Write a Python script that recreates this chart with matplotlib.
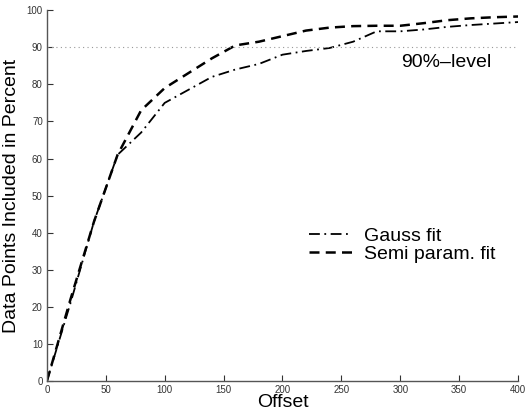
import matplotlib
matplotlib.use("Agg")
import matplotlib.pyplot as plt

offset = [0, 20, 40, 60, 80, 100, 120, 140, 160, 180, 200, 220, 240, 260, 280, 300, 320, 340, 360, 380, 400]
gauss = [0, 21, 43, 61, 67, 75, 78.5, 82, 84, 85.5, 88, 89, 89.8, 91.5, 94.3, 94.3, 94.8, 95.5, 96, 96.4, 96.8]
semi = [0, 22, 43, 61, 73, 79, 83, 87, 90.5, 91.5, 93, 94.5, 95.3, 95.7, 95.8, 95.8, 96.5, 97.3, 97.8, 98.1, 98.3]
level = 90
xticks = [0, 50, 100, 150, 200, 250, 300, 350, 400]
yticks = [0, 10, 20, 30, 40, 50, 60, 70, 80, 90, 100]

plt.rcParams['font.family'] = ['Liberation Sans', 'DejaVu Sans']
fig = plt.figure(figsize=(5.27, 4.19), dpi=100)
ax = fig.add_axes([0.089, 0.0907, 0.894, 0.885])

ax.plot(offset, gauss, color='black', lw=1.3, linestyle=(0, (6, 2.5, 1, 2.5)), label='Gauss fit')
ax.plot(offset, semi, color='black', lw=1.8, linestyle=(0, (4, 2.5)), label='Semi param. fit')
ax.axhline(level, color='#999999', lw=0.8, linestyle=(0, (1, 3)))
ax.text(301, 86, '90%\u2013level', fontsize=14, ha='left', va='center')

ax.set_xlim(0, 400)
ax.set_ylim(0, 100)
ax.set_xticks(xticks)
ax.set_yticks(yticks)
ax.tick_params(direction='in', length=4, labelsize=7, colors='#333333', pad=3)
for s in ['top', 'right']:
    ax.spines[s].set_visible(False)
for s in ['left', 'bottom']:
    ax.spines[s].set_color('#555555')
    ax.spines[s].set_linewidth(1.0)
ax.set_xlabel('Offset', fontsize=14, labelpad=-1)
ax.set_ylabel('Data Points Included in Percent', fontsize=14, labelpad=5)

leg = ax.legend(loc='upper left', bbox_to_anchor=(0.54, 0.435), frameon=False, fontsize=14,
                handlelength=2.2, handletextpad=0.6, labelspacing=0.0, borderaxespad=0)
fig.savefig('out.png', dpi=100)
